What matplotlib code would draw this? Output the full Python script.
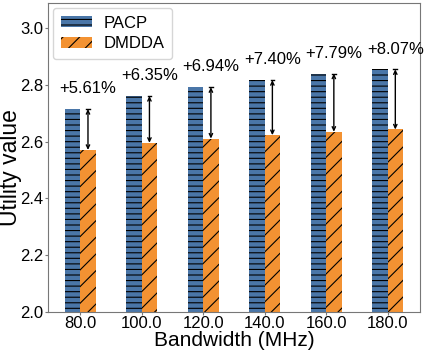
import numpy as np
import matplotlib
matplotlib.use('Agg')
import matplotlib.pyplot as plt

plt.rcParams['font.family'] = ['Liberation Sans', 'DejaVu Sans']
plt.rcParams['hatch.linewidth'] = 0.8

bandwidth = ['80.0', '100.0', '120.0', '140.0', '160.0', '180.0']
pacp = [2.715, 2.761, 2.792, 2.817, 2.840, 2.855]
dmdda = [2.571, 2.596, 2.611, 2.623, 2.635, 2.643]
gains = ['+5.61%', '+6.35%', '+6.94%', '+7.40%', '+7.79%', '+8.07%']

fig = plt.figure(figsize=(4.25, 3.51), dpi=100)
ax = fig.add_axes([0.113, 0.111, 0.875, 0.880])

x = np.arange(len(bandwidth))
w = 0.25
ax.bar(x - w / 2, pacp, w, color='#4a76a8', edgecolor='black', linewidth=0,
       hatch='---', label='PACP')
ax.bar(x + w / 2, dmdda, w, color='#f39232', edgecolor='black', linewidth=0,
       hatch='//', label='DMDDA')

for i in range(len(x)):
    ax.annotate('', xy=(x[i] + w / 2, pacp[i]), xytext=(x[i] + w / 2, dmdda[i]),
                arrowprops=dict(arrowstyle='<->,head_length=0.25,head_width=0.12',
                                color='black', lw=1.0, shrinkA=0, shrinkB=0))
    ax.plot([x[i] + w / 2 - 0.03, x[i] + w / 2 + 0.03], [pacp[i], pacp[i]],
            color='black', lw=1.0)
    ax.text(x[i] + w / 2, pacp[i] + 0.045, gains[i], ha='center', va='bottom',
            fontsize=12)

ax.set_ylim(2.0, 3.088)
ax.set_yticks([2.0, 2.2, 2.4, 2.6, 2.8, 3.0])
ax.set_xticks(x)
ax.set_xticklabels(bandwidth)
ax.tick_params(labelsize=12, length=2, pad=1.2, color='#777777')
ax.set_xlabel('Bandwidth (MHz)', fontsize=15, labelpad=0)
ax.set_ylabel('Utility value', fontsize=16.5)
ax.yaxis.set_label_coords(-0.069, 0.468)
for s in ax.spines.values():
    s.set_color('#777777')

ax.legend(loc='upper left', fontsize=12, handlelength=1.9, handleheight=0.65,
          handletextpad=0.7, labelspacing=0.35, borderpad=0.45,
          borderaxespad=0.3)

plt.savefig('out.png', dpi=100)
